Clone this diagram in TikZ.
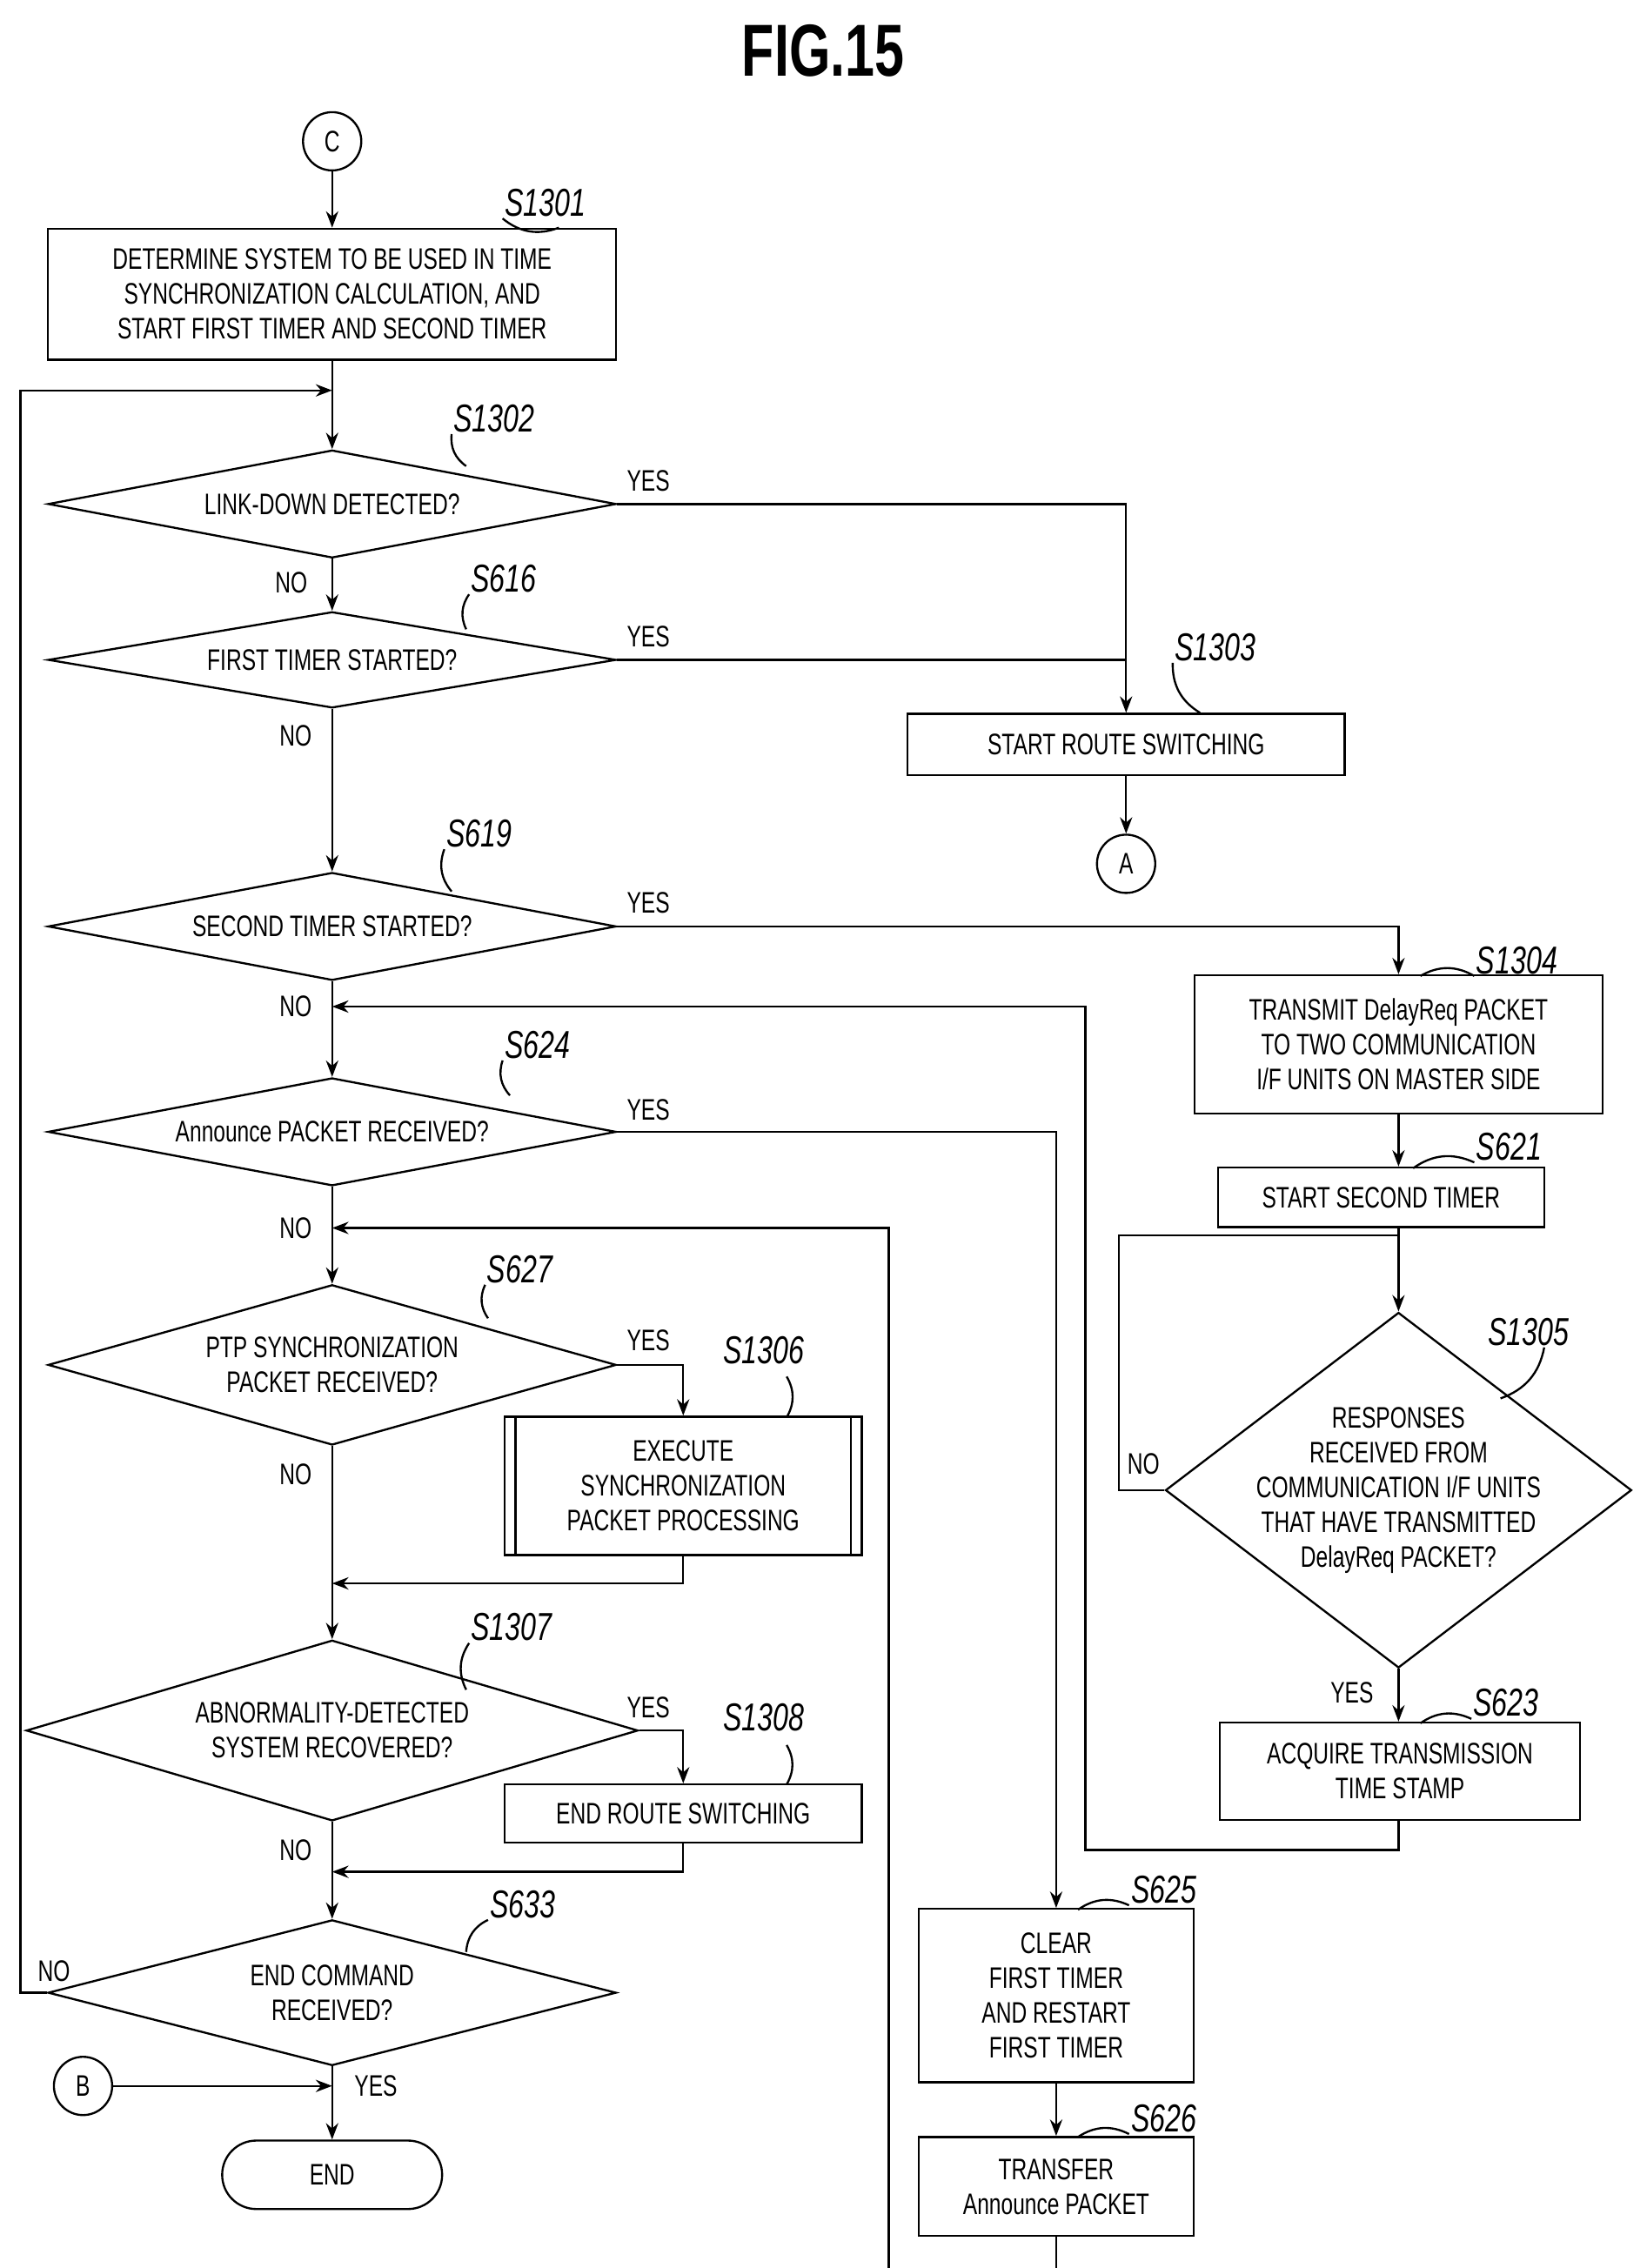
\documentclass[tikz,border=0pt]{standalone}
\usepackage{fontspec}
\setmainfont{Liberation Sans}[FakeStretch=0.72]
\usetikzlibrary{shapes.geometric,arrows.meta}
\begin{document}
\begin{tikzpicture}[x=0.05cm,y=-0.05cm,line width=2pt,
  every node/.style={font=\fontsize{29}{34}\selectfont,align=center},
  box/.style={draw,rectangle,inner sep=0pt},
  dia/.style={draw,diamond,inner sep=0pt},
  arr/.style={-{Stealth[length=16pt,width=12pt]}},
  lab/.style={font=\fontsize{38}{40}\selectfont\itshape,anchor=south west,inner sep=1pt},
  yn/.style={font=\fontsize{29}{34}\selectfont},
  con/.style={draw,circle,minimum size=2cm,inner sep=0pt}]
\useasboundingbox (0,0) rectangle (1130,1557);
\node[font=\fontsize{72}{72}\selectfont\bfseries] (title) at (565,35) {FIG.15};
\node[con] (c) at (228,97) {C};
\node[box,minimum width=19.5cm,minimum height=4.5cm] (s1301) at (228,202) {DETERMINE SYSTEM TO BE USED IN TIME\\SYNCHRONIZATION CALCULATION, AND\\START FIRST TIMER AND SECOND TIMER};
\node[dia,minimum width=19.5cm,minimum height=3.7cm] (d1) at (228,346) {};
\node (t1) at (228,346) {LINK-DOWN DETECTED?};
\node[dia,minimum width=19.5cm,minimum height=3.3cm] (d2) at (228,453) {};
\node (t2) at (228,453) {FIRST TIMER STARTED?};
\node[dia,minimum width=19.5cm,minimum height=3.7cm] (d3) at (228,636) {};
\node (t3) at (228,636) {SECOND TIMER STARTED?};
\node[dia,minimum width=19.5cm,minimum height=3.7cm] (d4) at (228,777) {};
\node (t4) at (228,777) {Announce PACKET RECEIVED?};
\node[dia,minimum width=19.5cm,minimum height=5.5cm] (d5) at (228,937) {};
\node (t5) at (228,937) {PTP SYNCHRONIZATION\\PACKET RECEIVED?};
\node[dia,minimum width=21cm,minimum height=6.2cm] (d6) at (228,1188) {};
\node (t6) at (228,1188) {ABNORMALITY-DETECTED\\SYSTEM RECOVERED?};
\node[dia,minimum width=19.5cm,minimum height=5cm] (d7) at (228,1368) {};
\node (t7) at (228,1368) {END COMMAND\\RECEIVED?};
\node[draw,rounded corners=1.17cm,minimum width=7.55cm,minimum height=2.35cm,inner sep=0pt] (end) at (228,1493) {END};
\node[con] (b) at (57,1432) {B};
\node[box,minimum width=15cm,minimum height=2.1cm] (s1303) at (773,511) {START ROUTE SWITCHING};
\node[con] (a) at (773,593) {A};
\node[box,minimum width=14cm,minimum height=4.75cm] (s1304) at (960,717) {TRANSMIT DelayReq PACKET\\TO TWO COMMUNICATION\\I/F UNITS ON MASTER SIDE};
\node[box,minimum width=11.2cm,minimum height=2.05cm] (s621) at (948,822) {START SECOND TIMER};
\node[dia,minimum width=16cm,minimum height=12.2cm] (d8) at (960,1023) {};
\node (t8) at (960,1023) {RESPONSES\\RECEIVED FROM\\COMMUNICATION I/F UNITS\\THAT HAVE TRANSMITTED\\DelayReq PACKET?};
\node[box,minimum width=12.35cm,minimum height=3.35cm] (s623) at (961,1216) {ACQUIRE TRANSMISSION\\TIME STAMP};
\node[box,minimum width=9.45cm,minimum height=5.95cm] (s625) at (725,1370) {CLEAR\\FIRST TIMER\\AND RESTART\\FIRST TIMER};
\node[box,minimum width=9.45cm,minimum height=3.4cm] (s626) at (725,1501) {TRANSFER\\Announce PACKET};
\node[box,minimum width=12.25cm,minimum height=4.75cm] (s1306) at (469,1020) {EXECUTE\\SYNCHRONIZATION\\PACKET PROCESSING};
\draw ([xshift=0.4cm]s1306.north west) -- ([xshift=0.4cm]s1306.south west);
\draw ([xshift=-0.4cm]s1306.north east) -- ([xshift=-0.4cm]s1306.south east);
\node[box,minimum width=12.25cm,minimum height=2cm] (s1308) at (469,1245) {END ROUTE SWITCHING};
% coordinates
\coordinate (j0) at (228,268);
\coordinate (j3) at (228,691);
\coordinate (j4) at (228,843);
\coordinate (j5) at (228,1087);
\coordinate (j6) at (228,1285);
\coordinate (jb) at (228,1432);
\coordinate (j8) at (960,848);
% trunk
\draw[arr] (c) -- (s1301);
\draw[arr] (s1301) -- (d1.north);
\draw[arr] (d1.south) -- (d2.north);
\draw[arr] (d2.south) -- (d3.north);
\draw[arr] (d3.south) -- (d4.north);
\draw[arr] (d4.south) -- (d5.north);
\draw[arr] (d5.south) -- (d6.north);
\draw[arr] (d6.south) -- (d7.north);
\draw[arr] (d7.south) -- (end.north);
\draw[arr] (b) -- (jb);
\draw[arr] (d7.west) -- (14,1368) |- (j0);
% right branches
\draw[arr] (d1.east) -| (s1303.north);
\draw (d2.east) -- (773,453);
\draw[arr] (s1303) -- (a);
\draw[arr] (d3.east) -| (s1304.north);
\draw[arr] (s1304) -- (s1304.south |- s621.north);
\draw (s1304.south |- s621.south) -- (j8);
\draw[arr] (j8) -- (d8.north);
\draw (d8.west) -- (768,1023) |- (j8);
\draw[arr] (d8.south) -- (s623.north -| d8.south);
\draw[arr] (s623.south -| d8.south) -- (960,1270) -- (745,1270) |- (j3);
\draw[arr] (d4.east) -| (s625.north);
\draw[arr] (s625) -- (s626);
\draw[arr] (s626.south) -- (725,1582) -- (610,1582) |- (j4);
\draw[arr] (d5.east) -| (s1306.north);
\draw[arr] (s1306.south) |- (j5);
\draw[arr] (d6.east) -| (s1308.north);
\draw[arr] (s1308.south) |- (j6);
% yes/no
\node[yn] (y1) at (445,330) {YES};
\node[yn] (y2) at (445,437) {YES};
\node[yn] (y3) at (445,620) {YES};
\node[yn] (y4) at (445,762) {YES};
\node[yn] (y5) at (445,920) {YES};
\node[yn] (y6) at (445,1172) {YES};
\node[yn] (y7) at (258,1432) {YES};
\node[yn] (y8) at (928,1162) {YES};
\node[yn] (n1) at (200,400) {NO};
\node[yn] (n2) at (203,505) {NO};
\node[yn] (n3) at (203,691) {NO};
\node[yn] (n4) at (203,843) {NO};
\node[yn] (n5) at (203,1012) {NO};
\node[yn] (n6) at (203,1270) {NO};
\node[yn] (n7) at (37,1353) {NO};
\node[yn] (n8) at (785,1005) {NO};
% step labels
\node[lab] (l1) at (345,150) {S1301};
\draw (s1301.north east) ++(-40,0) to[bend left=30] (l1.south west);
\node[lab] (l2) at (310,298) {S1302};
\draw (320,320) to[bend left=30] (l2.south west);
\node[lab] (l3) at (322,408) {S616};
\draw (320,432) to[bend left=30] (l3.south west);
\node[lab] (l4) at (805,455) {S1303};
\draw (s1303.north east) ++(-100,0) to[bend left=30] (l4.south west);
\node[lab] (l5) at (305,583) {S619};
\draw (310,612) to[bend left=30] (l5.south west);
\node[lab] (l6) at (1012,670) {S1304};
\draw (975,670) to[bend left=30] (l6.south west);
\node[lab] (l7) at (345,728) {S624};
\draw (350,752) to[bend left=30] (l7.south west);
\node[lab] (l8) at (1012,798) {S621};
\draw (970,802) to[bend left=30] (l8.south west);
\node[lab] (l9) at (333,882) {S627};
\draw (335,905) to[bend left=30] (l9.south west);
\node[lab] (l10) at (1020,925) {S1305};
\draw (1030,960) to[bend right=30] (1060,925);
\node[lab] (l11) at (495,938) {S1306};
\draw (540,973) to[bend right=30] (540,945);
\node[lab] (l12) at (322,1128) {S1307};
\draw (320,1160) to[bend left=30] (l12.south west);
\node[lab] (l13) at (495,1190) {S1308};
\draw (540,1225) to[bend right=30] (540,1198);
\node[lab] (l14) at (1010,1180) {S623};
\draw (975,1183) to[bend left=30] (l14.south west);
\node[lab] (l15) at (335,1318) {S633};
\draw (320,1340) to[bend left=30] (l15.south west);
\node[lab] (l16) at (775,1308) {S625};
\draw (740,1311) to[bend left=30] (l16.south west);
\node[lab] (l17) at (775,1465) {S626};
\draw (740,1467) to[bend left=30] (l17.south west);
\end{tikzpicture}
\end{document}
